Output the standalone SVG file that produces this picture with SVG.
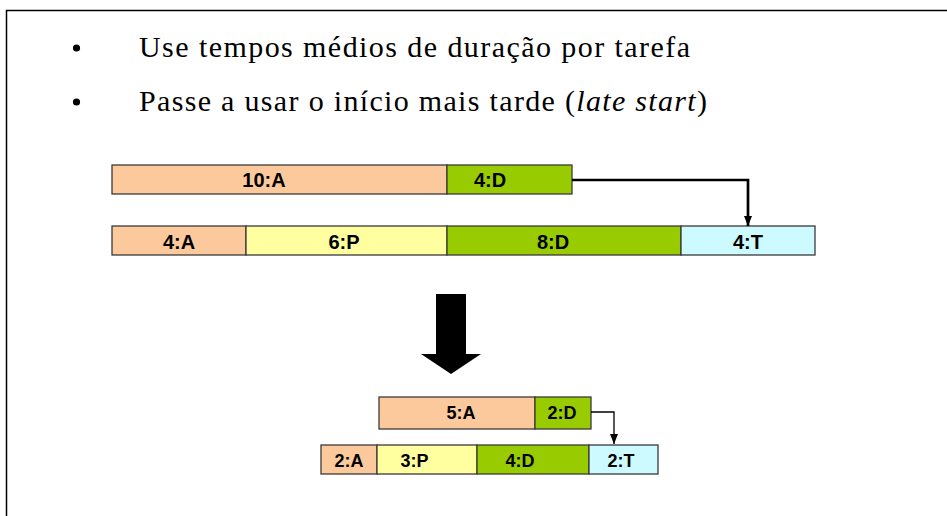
<svg xmlns="http://www.w3.org/2000/svg" width="947" height="516" viewBox="0 0 947 516">
<style>
.bul{font-family:"Liberation Serif","Times New Roman",serif;font-size:30px;fill:#000}
.lbl{font-family:"Liberation Sans",Arial,sans-serif;font-weight:bold;font-size:20px;fill:#000;text-anchor:middle}
.lbl2{font-family:"Liberation Sans",Arial,sans-serif;font-weight:bold;font-size:18px;fill:#000;text-anchor:middle}
.bar{stroke:#3a3a3a;stroke-width:1.3}
.A{fill:#FBC99C}.P{fill:#FFFF9F}.D{fill:#99CC00}.T{fill:#CCFAFF}
.conn{fill:none;stroke:#000}
</style>
<defs>
<marker id="ah" viewBox="0 0 10 8" refX="10" refY="4" markerWidth="10" markerHeight="8" markerUnits="userSpaceOnUse" orient="auto">
<path d="M0,0 L10,4 L0,8 Z" fill="#000"/>
</marker>
</defs>
<rect width="947" height="516" fill="#fff"/>
<path d="M6.5,516 V10.5 H947" fill="none" stroke="#000" stroke-width="1.5"/>
<g id="bullets">
<circle cx="76.5" cy="48" r="3.6" fill="#000"/>
<circle cx="76.5" cy="102" r="3.6" fill="#000"/>
<text class="bul" x="139" y="57" textLength="551" lengthAdjust="spacing">Use tempos médios de duração por tarefa</text>
<text class="bul" x="139" y="111" textLength="568" lengthAdjust="spacing">Passe a usar o início mais tarde (<tspan font-style="italic">late start</tspan>)</text>
</g>
<g id="top-row1">
<rect class="bar A" x="112" y="165" width="335" height="29"/>
<text class="lbl" x="264" y="187">10:A</text>
</g>
<g id="top-row1-D">
<rect class="bar D" x="447" y="165" width="125" height="29"/>
<text class="lbl" x="490" y="187">4:D</text>
</g>
<g id="top-row2-A">
<rect class="bar A" x="112" y="226" width="134" height="29"/>
<text class="lbl" x="179" y="249">4:A</text>
</g>
<g id="top-row2-P">
<rect class="bar P" x="246" y="226" width="201" height="29"/>
<text class="lbl" x="344" y="249">6:P</text>
</g>
<g id="top-row2-D">
<rect class="bar D" x="447" y="226" width="234" height="29"/>
<text class="lbl" x="553" y="249">8:D</text>
</g>
<g id="top-row2-T">
<rect class="bar T" x="681" y="226" width="134" height="29"/>
<text class="lbl" x="748" y="249">4:T</text>
</g>
<g id="big-arrow">
<path d="M436,294 H466 V354 H481 L451,374 L421,354 H436 Z" fill="#000"/>
</g>
<g id="bot-row1-A">
<rect class="bar A" x="379" y="397" width="156" height="32"/>
<text class="lbl2" x="461" y="419">5:A</text>
</g>
<g id="bot-row1-D">
<rect class="bar D" x="535" y="397" width="56" height="32"/>
<text class="lbl2" x="562" y="419">2:D</text>
</g>
<g id="bot-row2-A">
<rect class="bar A" x="321" y="445" width="56" height="29"/>
<text class="lbl2" x="349" y="466.5">2:A</text>
</g>
<g id="bot-row2-P">
<rect class="bar P" x="377" y="445" width="100" height="29"/>
<text class="lbl2" x="414.5" y="466.5">3:P</text>
</g>
<g id="bot-row2-D">
<rect class="bar D" x="477" y="445" width="112" height="29"/>
<text class="lbl2" x="520" y="466.5">4:D</text>
</g>
<g id="bot-row2-T">
<rect class="bar T" x="589" y="445" width="69" height="29"/>
<text class="lbl2" x="621" y="466.5">2:T</text>
</g>
<g id="connectors">
<path class="conn" d="M572,180 H748 V226" stroke-width="2.7" marker-end="url(#ah)"/>
<path class="conn" d="M591,412 H614 V444" stroke-width="1.3" marker-end="url(#ah)"/>
</g>
</svg>
